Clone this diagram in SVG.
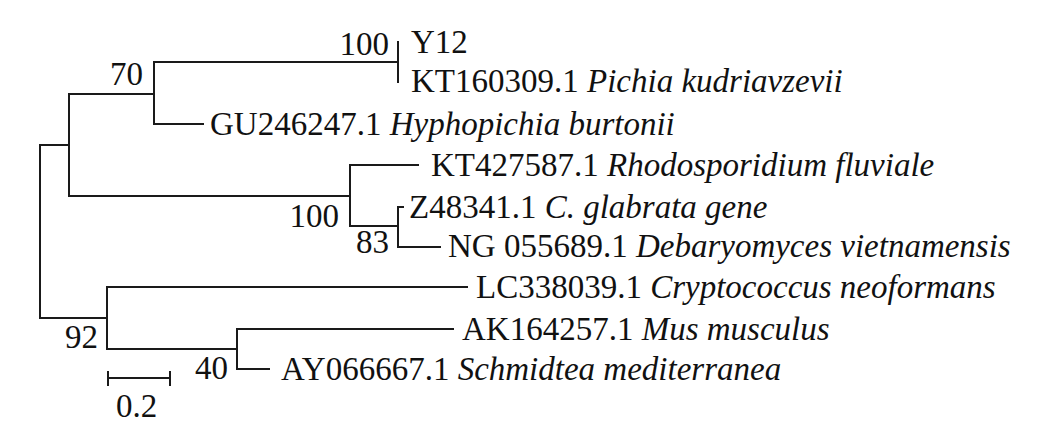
<svg xmlns="http://www.w3.org/2000/svg" width="1046" height="445" viewBox="0 0 1046 445">
<style>
text{font-family:"Liberation Serif","Times New Roman",serif;font-size:33px;fill:#111}
.i{font-style:italic}
.b{text-anchor:end}
.br{fill:none;stroke:#1a1a1a;stroke-width:2;stroke-linecap:square}
</style>
<rect width="1046" height="445" fill="#fff"/>
<g id="connectors" class="br">
<path d="M40,145V318M40,145H69M40,318H107"/>
<path d="M69,94V196M69,94H154M69,196H350"/>
<path d="M154,62V124M154,62H398M154,124H203"/>
<path d="M398,42V82"/>
<path d="M350,165V226M350,165H418M350,226H398"/>
<path d="M398,207V247M398,207H403M398,247H440"/>
<path d="M107,287V349M107,287H467M107,349H237"/>
<path d="M237,329V369M237,329H453M237,369H269"/>
</g>
<g id="leaf-Y12"><text x="411" y="53">Y12</text></g>
<g id="leaf-KT160309"><text x="411" y="92">KT160309.1 <tspan class="i">Pichia kudriavzevii</tspan></text></g>
<g id="leaf-GU246247"><text x="210" y="135">GU246247.1 <tspan class="i">Hyphopichia burtonii</tspan></text></g>
<g id="leaf-KT427587"><text x="431" y="176">KT427587.1 <tspan class="i">Rhodosporidium fluviale</tspan></text></g>
<g id="leaf-Z48341"><text x="409" y="218">Z48341.1 <tspan class="i">C. glabrata gene</tspan></text></g>
<g id="leaf-NG055689"><text x="448" y="257">NG 055689.1 <tspan class="i">Debaryomyces vietnamensis</tspan></text></g>
<g id="leaf-LC338039"><text x="476" y="298">LC338039.1 <tspan class="i">Cryptococcus neoformans</tspan></text></g>
<g id="leaf-AK164257"><text x="462" y="340">AK164257.1 <tspan class="i">Mus musculus</tspan></text></g>
<g id="leaf-AY066667"><text x="281" y="380">AY066667.1 <tspan class="i">Schmidtea mediterranea</tspan></text></g>
<g id="node-y12-cluster"><text class="b" x="389" y="55">100</text></g>
<g id="node-70"><text class="b" x="143" y="85">70</text></g>
<g id="node-100"><text class="b" x="339" y="227">100</text></g>
<g id="node-83"><text class="b" x="389" y="253">83</text></g>
<g id="node-92"><text class="b" x="98" y="348">92</text></g>
<g id="node-40"><text class="b" x="228" y="379">40</text></g>
<g id="scale-bar">
<path class="br" d="M108,378H170M108,372V385M170,372V385"/>
<text x="116" y="417">0.2</text>
</g>
</svg>
